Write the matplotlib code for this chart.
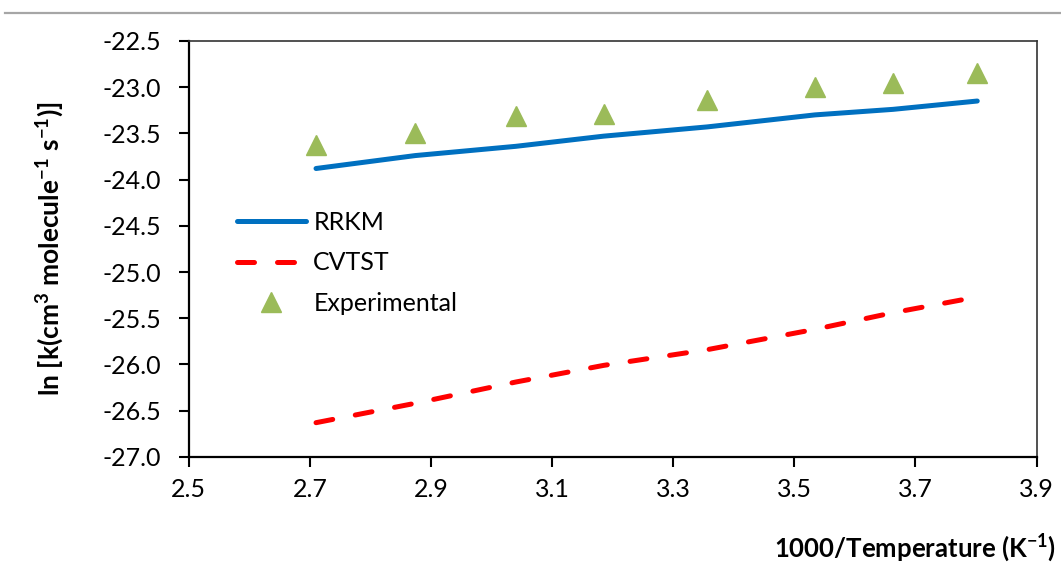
import matplotlib
matplotlib.use("Agg")
import matplotlib.pyplot as plt
from matplotlib.lines import Line2D
from matplotlib.ticker import FormatStrFormatter

plt.rcParams['font.family'] = ['Lato', 'DejaVu Sans']
plt.rcParams['axes.unicode_minus'] = False
plt.rcParams['mathtext.default'] = 'regular'

inv_T = [2.710, 2.874, 3.040, 3.185, 3.356, 3.534, 3.663, 3.802]
rrkm = [-23.88, -23.74, -23.64, -23.53, -23.43, -23.30, -23.24, -23.15]
cvtst = [-26.63, -26.42, -26.19, -26.01, -25.84, -25.62, -25.44, -25.27]
experimental = [-23.63, -23.50, -23.31, -23.29, -23.14, -23.00, -22.96, -22.85]

x_ticks = [2.5, 2.7, 2.9, 3.1, 3.3, 3.5, 3.7, 3.9]
y_ticks = [-27.0, -26.5, -26.0, -25.5, -25.0, -24.5, -24.0, -23.5, -23.0, -22.5]

FS = 18

fig = plt.figure(figsize=(10.61, 5.85), dpi=100)
ax = fig.add_axes([0.178, 0.219, 0.799, 0.711])

ax.plot(inv_T, rrkm, color='#0070C0', lw=3.6, solid_capstyle='round', label='RRKM')
ax.plot(inv_T, cvtst, color='#FF0000', lw=3.6, dashes=(3.4, 4.6), dash_capstyle='round', label='CVTST')
ax.plot(inv_T, experimental, linestyle='none', marker='^', ms=15, color='#9BBB59', label='Experimental')

ax.set_xlim(2.5, 3.9)
ax.set_ylim(-27.0, -22.5)
ax.set_xticks(x_ticks)
ax.set_yticks(y_ticks)
ax.xaxis.set_major_formatter(FormatStrFormatter('%.1f'))
ax.yaxis.set_major_formatter(FormatStrFormatter('%.1f'))
ax.tick_params(axis='both', direction='out', length=7, width=1.5, labelsize=FS)
ax.tick_params(axis='x', pad=8)
ax.tick_params(axis='y', pad=13)

for s in ['left', 'bottom']:
    ax.spines[s].set_linewidth(1.6)
    ax.spines[s].set_color('black')
for s in ['top', 'right']:
    ax.spines[s].set_linewidth(1.2)
    ax.spines[s].set_color('#333333')

ax.set_ylabel(r'ln [k(cm$^{3}$ molecule$^{-1}$ s$^{-1}$)]', fontsize=FS + 1, fontweight='bold', labelpad=26)
fig.text(0.995, 0.063, r'1000/Temperature (K$^{-1}$)', ha='right', va='center', fontsize=FS + 0.5, fontweight='bold')

leg = ax.legend(loc='upper left', bbox_to_anchor=(0.030, 0.645), frameon=False, fontsize=FS,
                handlelength=2.76, labelspacing=0.69, handletextpad=0.3)

fig.add_artist(Line2D([0.005, 1.0], [0.978, 0.978], transform=fig.transFigure, color='#A6A6A6', lw=1.6))

fig.savefig('out.png', dpi=100)
